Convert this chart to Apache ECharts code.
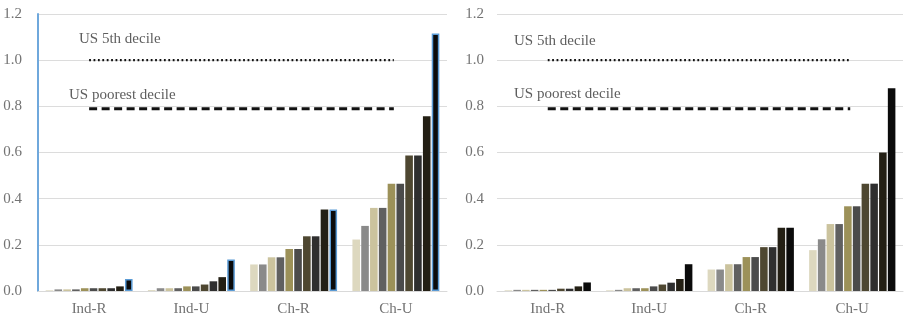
<!DOCTYPE html>
<html>
<head>
<meta charset="utf-8">
<script src="https://cdn.jsdelivr.net/npm/echarts@6/dist/echarts.min.js"></script>
<style>html,body{margin:0;padding:0;background:#fff;}#c{width:904px;height:322px;}</style>
</head>
<body>
<div id="c"></div>
<script>
// ---- data ----
const categories = ['Ind-R', 'Ind-U', 'Ch-R', 'Ch-U'];
const yTicks = [0, 0.2, 0.4, 0.6, 0.8, 1.0, 1.2];

// left panel: 10 decile bars per category
const leftIndR = [0.003, 0.007, 0.007, 0.007, 0.012, 0.012, 0.012, 0.012, 0.02, 0.052];
const leftIndU = [0.004, 0.012, 0.012, 0.012, 0.02, 0.02, 0.028, 0.042, 0.06, 0.136];
const leftChR  = [0.115, 0.115, 0.146, 0.146, 0.182, 0.182, 0.237, 0.237, 0.353, 0.353];
const leftChU  = [0.223, 0.282, 0.36, 0.36, 0.465, 0.465, 0.587, 0.587, 0.757, 1.116];

// right panel
const rightIndR = [0.003, 0.005, 0.005, 0.005, 0.005, 0.005, 0.01, 0.01, 0.02, 0.037];
const rightIndU = [0.003, 0.005, 0.012, 0.012, 0.012, 0.02, 0.028, 0.036, 0.052, 0.116];
const rightChR  = [0.093, 0.093, 0.116, 0.116, 0.147, 0.147, 0.19, 0.19, 0.274, 0.274];
const rightChU  = [0.177, 0.224, 0.29, 0.29, 0.367, 0.367, 0.465, 0.465, 0.6, 0.878];

// reference lines
const us5thDecile = 1.0;
const usPoorestDecile = 0.79;
const refLineSpan = [0.5, 3.48]; // in category units
const refLabel5th = 'US 5th decile';
const refLabelPoorest = 'US poorest decile';

// ---- styles ----
const barColors = ['#ddd8bf', '#8a8a8a', '#cbc39e', '#606060', '#9c9159',
                   '#4b4b4b', '#4e4731', '#2f2f2f', '#231f14', '#0b0b0b'];
const FONT = 'Liberation Serif';

function transpose(groups) {
  return groups[0].map((_, d) => groups.map(g => g[d]));
}
const leftSeriesData = transpose([leftIndR, leftIndU, leftChR, leftChU]);
const rightSeriesData = transpose([rightIndR, rightIndU, rightChR, rightChU]);

const series = [];
function addBars(data, xIdx, yIdx, blueLast) {
  data.forEach((vals, d) => {
    const isLast = d === data.length - 1;
    series.push({
      type: 'bar', xAxisIndex: xIdx, yAxisIndex: yIdx,
      data: vals,
      barCategoryGap: '15%', barGap: '16%',
      itemStyle: {
        color: barColors[d],
        borderColor: (blueLast && isLast) ? '#5b9bd5' : undefined,
        borderWidth: (blueLast && isLast) ? 1.5 : 0
      },
      silent: true, animation: false
    });
  });
}
addBars(leftSeriesData, 0, 0, true);
addBars(rightSeriesData, 1, 1, false);

function addRef(xIdx, yIdx) {
  series.push({
    type: 'line', xAxisIndex: xIdx, yAxisIndex: yIdx, symbol: 'none', animation: false,
    data: refLineSpan.map(x => [x, us5thDecile]),
    lineStyle: { color: '#111', width: 2.2, type: [1.8, 2.6], cap: 'butt' }, z: 5
  });
  series.push({
    type: 'line', xAxisIndex: xIdx, yAxisIndex: yIdx, symbol: 'none', animation: false,
    data: refLineSpan.map(x => [x, usPoorestDecile]),
    lineStyle: { color: '#111', width: 3, type: [8, 4.5], cap: 'butt' }, z: 5
  });
}
addRef(2, 0);
addRef(3, 1);

const grids = [
  { left: 38, right: 457, top: 14, bottom: 31 },
  { left: 497, right: 1, top: 14, bottom: 31 }
];

function catAxis(gi) {
  return {
    type: 'category', gridIndex: gi, data: categories,
    axisLine: { show: true, lineStyle: { color: '#d9d9d9', width: 1 } },
    axisTick: { show: false },
    axisLabel: { color: '#737373', fontFamily: FONT, fontSize: 15, margin: 11 }
  };
}
function valXAxis(gi) {
  return { type: 'value', gridIndex: gi, min: 0, max: categories.length, show: false };
}
function yAxis(gi, showLine) {
  return {
    type: 'value', gridIndex: gi, min: yTicks[0], max: yTicks[yTicks.length - 1], interval: 0.2,
    axisLine: { show: showLine, lineStyle: { color: '#6fa8dc', width: 2 } },
    axisTick: { show: false },
    splitLine: { lineStyle: { color: '#dcdcdc', width: 1 } },
    axisLabel: { color: '#737373', fontFamily: FONT, fontSize: 15, margin: showLine ? 16 : 13,
      formatter: v => v.toFixed(1) }
  };
}

const textStyle = { fill: '#5e5e5e', font: '15px "' + FONT + '"' };
const chart = echarts.init(document.getElementById('c'), null, { renderer: 'canvas' });
chart.setOption({
  animation: false,
  backgroundColor: '#fff',
  grid: grids,
  xAxis: [catAxis(0), catAxis(1), valXAxis(0), valXAxis(1)],
  yAxis: [yAxis(0, true), yAxis(1, false)],
  series: series,
  graphic: [
    { type: 'text', left: 79, top: 32, style: Object.assign({ text: refLabel5th }, textStyle) },
    { type: 'text', left: 69, top: 88, style: Object.assign({ text: refLabelPoorest }, textStyle) },
    { type: 'text', left: 514, top: 34, style: Object.assign({ text: refLabel5th }, textStyle) },
    { type: 'text', left: 514, top: 87, style: Object.assign({ text: refLabelPoorest }, textStyle) }
  ]
});
</script>
</body>
</html>
